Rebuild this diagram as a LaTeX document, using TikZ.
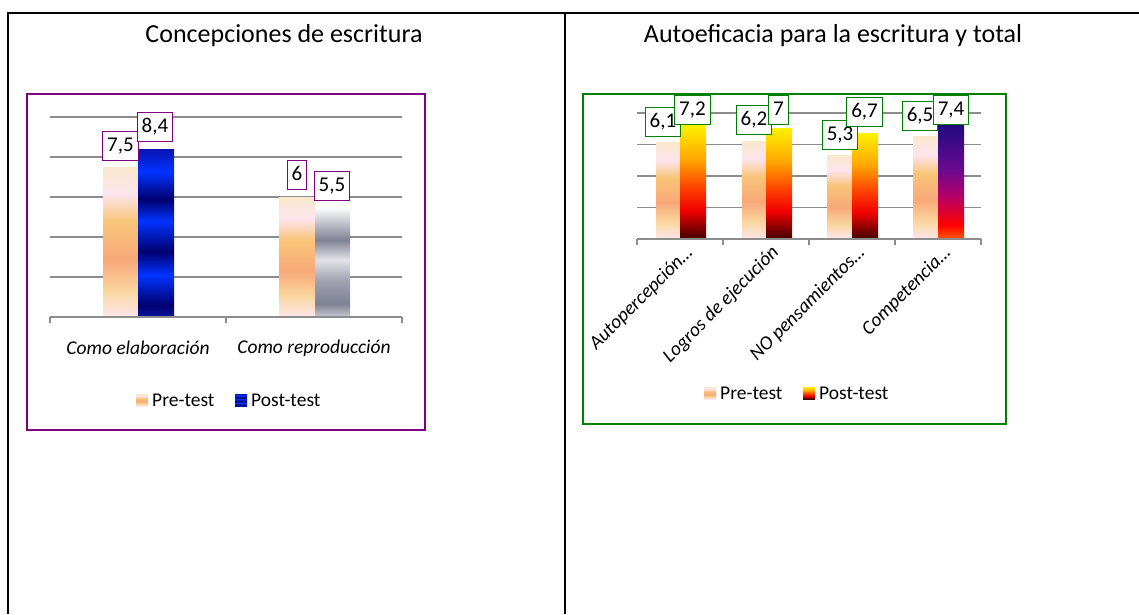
\documentclass[tikz,border=0pt]{standalone}
\usepackage{fontspec}
\setmainfont{Carlito}
\usetikzlibrary{positioning}

\definecolor{framepurple}{HTML}{800080}
\definecolor{framegreen}{HTML}{008000}
\definecolor{gridgray}{HTML}{8C8C8C}
% pre-test colours
\definecolor{precream}{HTML}{FAE8CC}
\definecolor{prepink}{HTML}{FDE4EE}
\definecolor{preyel}{HTML}{F8C578}
\definecolor{presalmon}{HTML}{F8A878}
\definecolor{prelight}{HTML}{FAD7A0}
\definecolor{prebot}{HTML}{FDE6EE}
% post-test colours
\definecolor{bluetop}{HTML}{0A14B4}
\definecolor{bluebright}{HTML}{0033FF}
\definecolor{bluedark}{HTML}{000070}
\definecolor{bluebot}{HTML}{0A14A0}
\definecolor{graydark}{HTML}{7F8295}
\definecolor{graylight}{HTML}{E2E2E6}
\definecolor{graymid}{HTML}{A0A2B0}
\definecolor{graybot}{HTML}{C8C8D0}
\definecolor{fireyel}{HTML}{FFF000}
\definecolor{fireorange}{HTML}{FFA500}
\definecolor{firered}{HTML}{FF4000}
\definecolor{firedeep}{HTML}{F00000}
\definecolor{firedark}{HTML}{400000}
\definecolor{purtop}{HTML}{1C0A80}
\definecolor{purmid}{HTML}{6A0A90}
\definecolor{purmag}{HTML}{B0006A}
\definecolor{purred}{HTML}{FF0000}
\definecolor{purbot}{HTML}{FF5A00}

\pgfdeclareverticalshading{preshade}{100bp}{color(0bp)=(prebot); color(25bp)=(prebot); color(33.5bp)=(prelight); color(44bp)=(presalmon); color(57bp)=(preyel); color(66bp)=(prepink); color(75bp)=(precream); color(100bp)=(precream)}
\pgfdeclareverticalshading{blueshade}{100bp}{color(0bp)=(bluebot); color(25bp)=(bluebot); color(28.5bp)=(bluedark); color(37.5bp)=(bluebright); color(44.5bp)=(bluedark); color(53.5bp)=(bluebright); color(60bp)=(bluedark); color(68.25bp)=(bluebright); color(75bp)=(bluetop); color(100bp)=(bluetop)}
\pgfdeclareverticalshading{grayshade}{100bp}{color(0bp)=(graybot); color(25bp)=(graybot); color(31bp)=(graydark); color(41.5bp)=(graymid); color(51bp)=(graylight); color(60bp)=(graydark); color(75bp)=(white); color(100bp)=(white)}
\pgfdeclareverticalshading{fireshade}{100bp}{color(0bp)=(firedark); color(25bp)=(firedark); color(37.5bp)=(firedeep); color(47.5bp)=(firered); color(60bp)=(fireorange); color(75bp)=(fireyel); color(100bp)=(fireyel)}
\pgfdeclareverticalshading{purshade}{100bp}{color(0bp)=(purbot); color(25bp)=(purbot); color(31bp)=(purred); color(44bp)=(purmag); color(55bp)=(purmid); color(75bp)=(purtop); color(100bp)=(purtop)}

\tikzset{
  titletext/.style={font=\fontsize{26}{30}\selectfont},
  charttext/.style={font=\fontsize{19.5}{22}\selectfont},
  cattext/.style={charttext, font=\fontsize{19.5}{22}\selectfont\itshape},
  catrot/.style={charttext, rotate=45, anchor=north east, inner sep=2pt},
  vallabel/.style={font=\fontsize{21}{24}\selectfont, fill=white, line width=1pt,
    inner xsep=4.5pt, inner ysep=6pt, text height=14pt, text depth=3pt},
  purplelabel/.style={vallabel, draw=framepurple},
  greenlabel/.style={vallabel, draw=framegreen},
  legtext/.style={charttext, anchor=west, inner sep=1pt},
  grid/.style={draw=gridgray, line width=1.2pt},
}

\begin{document}
\begin{tikzpicture}[x=1pt, y=-1pt]
    \useasboundingbox (0, 0) rectangle (1139, 614);
    % table lines
    \draw[line width=1.6pt] (7, 13) -- (1139, 13);
    \draw[line width=1.6pt] (8, 13) -- (8, 614);
    \draw[line width=1.6pt] (565, 13) -- (565, 614);
    \node[titletext] (t1) at (284, 36) {Concepciones de escritura};
    \node[titletext] (t2) at (833, 36) {Autoeficacia para la escritura y total};

    % left chart
    \draw[draw=framepurple, line width=2pt] (27, 94) rectangle (425, 430);
    \draw[grid] (50, 117) -- (402, 117);
    \draw[grid] (50, 157) -- (402, 157);
    \draw[grid] (50, 197) -- (402, 197);
    \draw[grid] (50, 237) -- (402, 237);
    \draw[grid] (50, 277) -- (402, 277);
    \shade[shading=preshade] (103, 167) rectangle (138, 317);
    \shade[shading=blueshade] (138, 149) rectangle (174, 317);
    \shade[shading=preshade] (279, 197) rectangle (315, 317);
    \shade[shading=grayshade] (315, 207) rectangle (350, 317);
    \draw[grid] (50, 317) -- (402, 317);
    \draw[grid] (50, 317) -- ++(0, 6);
    \draw[grid] (226, 317) -- ++(0, 6);
    \draw[grid] (402, 317) -- ++(0, 6);
    \node[purplelabel] (a1) at (120.5, 145.5) {7,5};
    \node[purplelabel] (a2) at (155, 127) {8,4};
    \node[purplelabel] (a3) at (297, 174.5) {6};
    \node[purplelabel] (a4) at (332, 185.5) {5,5};
    \node[cattext] (ca1) at (138, 348) {Como elaboración};
    \node[cattext] (ca2) at (314, 348) {Como reproducción};
    \shade[shading=preshade] (136, 394) rectangle (148, 406);
    \node[legtext] (lga) at (151, 400) {Pre-test};
    \shade[shading=blueshade] (235, 394) rectangle (247, 406);
    \node[legtext] (lgb) at (250, 400) {Post-test};

    % right chart
    \draw[draw=framegreen, line width=2pt] (583, 94) rectangle (1006, 424);
    \draw[grid] (637, 113) -- (981, 113);
    \draw[grid] (637, 144.5) -- (981, 144.5);
    \draw[grid] (637, 176) -- (981, 176);
    \draw[grid] (637, 207.5) -- (981, 207.5);
    \shade[shading=preshade] (656, 142.9) rectangle (680, 239);
    \shade[shading=fireshade] (680, 125.6) rectangle (706, 239);
    \shade[shading=preshade] (742, 141.4) rectangle (766, 239);
    \shade[shading=fireshade] (766, 128.8) rectangle (792, 239);
    \shade[shading=preshade] (827, 155.5) rectangle (852, 239);
    \shade[shading=fireshade] (852, 133.5) rectangle (878, 239);
    \shade[shading=preshade] (913, 136.6) rectangle (938, 239);
    \shade[shading=purshade] (938, 122.5) rectangle (964, 239);
    \draw[grid] (637, 239) -- (981, 239);
    \draw[grid] (637, 239) -- ++(0, 6);
    \draw[grid] (723, 239) -- ++(0, 6);
    \draw[grid] (809, 239) -- ++(0, 6);
    \draw[grid] (895, 239) -- ++(0, 6);
    \draw[grid] (981, 239) -- ++(0, 6);
    \node[greenlabel] (b1) at (663, 122) {6,1};
    \node[greenlabel] (b2) at (692.5, 109.5) {7,2};
    \node[greenlabel] (b3) at (754, 120) {6,2};
    \node[greenlabel] (b4) at (778.5, 109.5) {7};
    \node[greenlabel] (b5) at (840, 134.5) {5,3};
    \node[greenlabel] (b6) at (864.5, 112) {6,7};
    \node[greenlabel] (b7) at (920, 116) {6,5};
    \node[greenlabel] (b8) at (951, 109.5) {7,4};
    \node[catrot] (cb1) at (684, 241) {\itshape Autopercepción…};
    \node[catrot] (cb2) at (770, 241) {\itshape Logros de ejecución};
    \node[catrot] (cb3) at (856, 241) {\itshape NO pensamientos…};
    \node[catrot] (cb4) at (942, 241) {\itshape Competencia…};
    \shade[shading=preshade] (704, 387) rectangle (716, 399);
    \node[legtext] (lgc) at (719, 393) {Pre-test};
    \shade[shading=fireshade] (803, 387) rectangle (815, 399);
    \node[legtext] (lgd) at (818, 393) {Post-test};
\end{tikzpicture}
\end{document}
